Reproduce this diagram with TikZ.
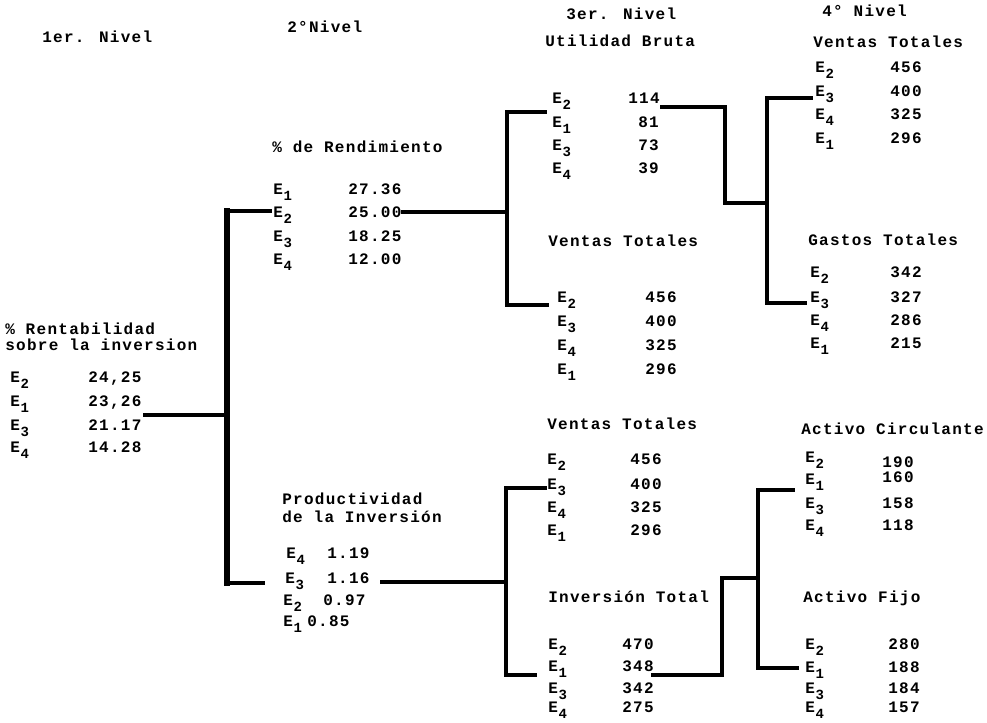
\documentclass[tikz,border=0pt]{standalone}
\usepackage{fontspec}
\newfontfamily\tw[LetterSpace=8]{Liberation Mono}
\newcommand\subf{\fontsize{10.5}{10.5}\selectfont}
\tikzset{
  txt/.style={anchor=mid west, inner sep=0pt, font=\tw\bfseries\fontsize{12}{12}\selectfont},
  conn/.style={line width=3pt, line cap=rect, line join=miter, black},
  mainbar/.style={line width=5pt, line cap=rect, black}
}
% \erow{name}{xE}{xV}{yE}{yV}{sub}{value}
\newcommand\erow[7]{%
  \node[txt] (#1e) at (#2,#4) {E\kern0.5pt\raisebox{-4pt}{\subf #6}};
  \node[txt] (#1v) at (#3,#5) {#7};}
\begin{document}
\begin{tikzpicture}[x=0.75pt,y=-0.75pt]
\useasboundingbox[fill=white] (0,0) rectangle (987,723);

% headers
\node[txt] (h1) at (42,40) {1er. Nivel};
\node[txt] (h2) at (287,30) {2°Nivel};
\node[txt] (h3) at (566,17) {3er. Nivel};
\node[txt] (h4) at (822,14) {4° Nivel};

% level 1
\node[txt] (t1a) at (5,332) {\% Rentabilidad};
\node[txt] (t1b) at (5,348) {sobre la inversion};
\erow{ra}{10}{88}{380}{380}{2}{24,25}
\erow{rb}{10}{88}{404}{404}{1}{23,26}
\erow{rc}{10}{88}{428}{428}{3}{21.17}
\erow{rd}{10}{88}{450}{450}{4}{14.28}

% level 2 upper
\node[txt] (t2) at (272,150) {\% de Rendimiento};
\erow{sa}{273}{348}{192}{192}{1}{27.36}
\erow{sb}{273}{348}{215}{215}{2}{25.00}
\erow{sc}{273}{348}{239}{239}{3}{18.25}
\erow{sd}{273}{348}{262}{262}{4}{12.00}

% level 2 lower
\node[txt] (t3a) at (282,502) {Productividad};
\node[txt] (t3b) at (282,520) {de la Inversión};
\erow{pa}{286}{327}{556}{556}{4}{1.19}
\erow{pb}{285}{327}{581}{581}{3}{1.16}
\erow{pc}{283}{323}{603}{603}{2}{0.97}
\erow{pd}{283}{307}{624}{624}{1}{0.85}

% level 3
\node[txt] (u0) at (545,44) {Utilidad Bruta};
\erow{ua}{552}{628}{101}{101}{2}{114}
\erow{ub}{552}{638}{125}{125}{1}{81}
\erow{uc}{552}{638}{148}{148}{3}{73}
\erow{ud}{552}{638}{171}{171}{4}{39}

\node[txt] (v0) at (548,244) {Ventas Totales};
\erow{va}{557}{645}{300}{300}{2}{456}
\erow{vb}{557}{645}{324}{324}{3}{400}
\erow{vc}{557}{645}{348}{348}{4}{325}
\erow{vd}{557}{645}{372}{372}{1}{296}

\node[txt] (w0) at (547,427) {Ventas Totales};
\erow{wa}{547}{630}{462}{462}{2}{456}
\erow{wb}{547}{630}{487}{487}{3}{400}
\erow{wc}{547}{630}{510}{510}{4}{325}
\erow{wd}{547}{630}{533}{533}{1}{296}

\node[txt] (i0) at (548,600) {Inversión Total};
\erow{ia}{548}{622}{647}{647}{2}{470}
\erow{ib}{548}{622}{669}{669}{1}{348}
\erow{ic}{548}{622}{691}{691}{3}{342}
\erow{id}{548}{622}{710}{710}{4}{275}

% level 4
\node[txt] (x0) at (813,45) {Ventas Totales};
\erow{xa}{815}{890}{70}{70}{2}{456}
\erow{xb}{815}{890}{94}{94}{3}{400}
\erow{xc}{815}{890}{117}{117}{4}{325}
\erow{xd}{815}{890}{141}{141}{1}{296}

\node[txt] (g0) at (808,243) {Gastos Totales};
\erow{ga}{810}{890}{275}{275}{2}{342}
\erow{gb}{810}{890}{300}{300}{3}{327}
\erow{gc}{810}{890}{323}{323}{4}{286}
\erow{gd}{810}{890}{346}{346}{1}{215}

\node[txt] (a0) at (801,432) {Activo Circulante};
\erow{aa}{805}{882}{460}{465}{2}{190}
\erow{ab}{805}{882}{482}{480}{1}{160}
\erow{ac}{805}{882}{506}{506}{3}{158}
\erow{ad}{805}{882}{528}{528}{4}{118}

\node[txt] (f0) at (803,600) {Activo Fijo};
\erow{fa}{805}{888}{647}{647}{2}{280}
\erow{fb}{805}{888}{670}{670}{1}{188}
\erow{fc}{805}{888}{691}{691}{3}{184}
\erow{fd}{805}{888}{710}{710}{4}{157}

% connector coordinates
\coordinate (c1) at (145,415); \coordinate (j1) at (227,415);
\coordinate (b1t) at (227,211); \coordinate (b1b) at (227,583);
\coordinate (e1t) at (270,211); \coordinate (e1b) at (263,583);

\coordinate (c2) at (403,212); \coordinate (j2) at (507,212);
\coordinate (b2t) at (507,112); \coordinate (b2b) at (507,305);
\coordinate (e2t) at (545,112); \coordinate (e2b) at (547,305);

\coordinate (c3) at (382,582); \coordinate (j3) at (506,582);
\coordinate (b3t) at (506,488); \coordinate (b3b) at (506,675);
\coordinate (e3t) at (545,488); \coordinate (e3b) at (535,675);

\coordinate (c4) at (662,107); \coordinate (k4) at (725,107);
\coordinate (k4b) at (725,203); \coordinate (j4) at (767,203);
\coordinate (b4t) at (767,98); \coordinate (b4b) at (767,303);
\coordinate (e4t) at (811,98); \coordinate (e4b) at (805,303);

\coordinate (c5) at (653,675); \coordinate (k5) at (722,675);
\coordinate (k5b) at (722,578); \coordinate (j5) at (758,578);
\coordinate (b5t) at (758,490); \coordinate (b5b) at (758,668);
\coordinate (e5t) at (793,490); \coordinate (e5b) at (797,668);

% connectors
\draw[mainbar] (b1t) -- (b1b);
\draw[conn] (e1t) -- (b1t);
\draw[conn] (b1b) -- (e1b);
\draw[conn] (c1) -- (j1);

\draw[conn] (c2) -- (j2);
\draw[conn] (e2t) -- (b2t) -- (b2b) -- (e2b);

\draw[conn] (c3) -- (j3);
\draw[conn] (e3t) -- (b3t) -- (b3b) -- (e3b);

\draw[conn] (c4) -- (k4) -- (k4b) -- (j4);
\draw[conn] (e4t) -- (b4t) -- (b4b) -- (e4b);

\draw[conn] (c5) -- (k5) -- (k5b) -- (j5);
\draw[conn] (e5t) -- (b5t) -- (b5b) -- (e5b);
\end{tikzpicture}
\end{document}
